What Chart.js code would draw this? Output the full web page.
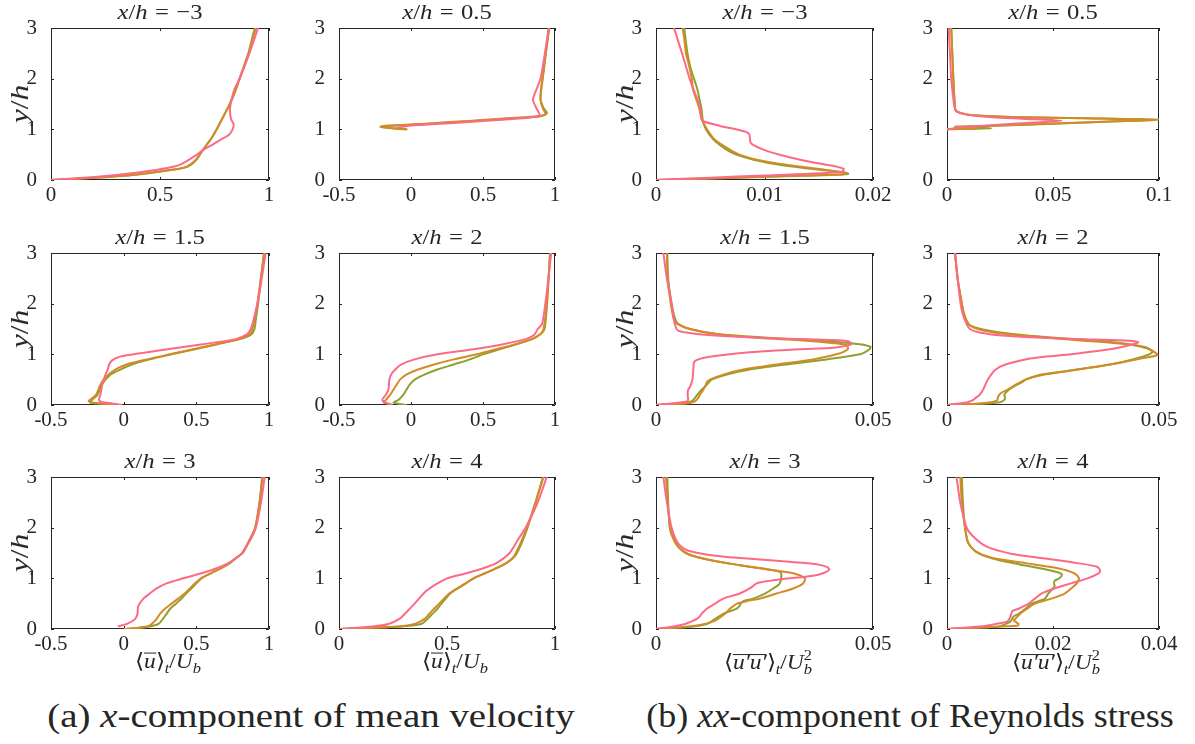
<!DOCTYPE html>
<html>
<head>
<meta charset="utf-8">
<script src="https://cdn.jsdelivr.net/npm/chart.js@4.4.1/dist/chart.umd.min.js"></script>
<style>
  body { margin: 0; background: #fff; }
  #fig { position: relative; width: 1195px; height: 744px; overflow: hidden;
         font-family: "Liberation Serif", serif; color: #262626; }
  #fig canvas { position: absolute; }
  .lbl { position: absolute; white-space: nowrap; line-height: 1; font-weight: normal;
         transform: translate(-50%, -50%) scaleX(1.12); }
  .ttl { font-size: 22px; }
  .eq { margin: 0 0.3em; }
  .ylab { font-size: 26px; transform: translate(-50%, -50%) rotate(-90deg) scaleX(1.22); }
  .xlab { font-size: 21px; }
  .capa { font-size: 33px; transform: translate(-50%, -50%) scaleX(1.18); }
  .capb { font-size: 33px; transform: translate(-50%, -50%) scaleX(1.09); }
  .ovl { display: inline-block; font-style: italic; border-top: 1px solid currentColor;
         line-height: 0.55; padding-top: 2px; }
  .ss { display: inline-block; vertical-align: -0.35em; font-size: 0.7em; line-height: 0.95; text-align: left; }
</style>
</head>
<body>
<div id="fig"></div>
<script>
// profiles are [x, y/h] pairs; A = pink case, B = orange case, C = green case

// streamwise mean velocity <u>_t / U_b
var uM3A = [[0,0],[0.1,0.03],[0.2,0.06],[0.3,0.1],[0.4,0.15],[0.5,0.21],[0.56,0.26],[0.6,0.32],[0.64,0.42],[0.67,0.5],[0.7,0.6],[0.742,0.7],[0.78,0.8],[0.818,0.9],[0.833,1.0],[0.838,1.1],[0.826,1.2],[0.821,1.4],[0.829,1.6],[0.842,1.8],[0.865,2],[0.91,2.5],[0.95,3]];
var uM3B = [[0,0],[0.1,0.02],[0.22,0.05],[0.35,0.09],[0.45,0.14],[0.57,0.21],[0.625,0.27],[0.665,0.4],[0.69,0.55],[0.715,0.7],[0.74,0.85],[0.76,1.0],[0.79,1.25],[0.82,1.5],[0.845,1.75],[0.865,2],[0.887,2.25],[0.907,2.5],[0.923,2.75],[0.94,3]];
var uM3C = [[0,0],[0.1,0.02],[0.22,0.05],[0.35,0.09],[0.455,0.14],[0.576,0.21],[0.63,0.27],[0.667,0.4],[0.69,0.55],[0.715,0.7],[0.74,0.85],[0.76,1.0],[0.79,1.25],[0.82,1.5],[0.845,1.75],[0.865,2],[0.885,2.25],[0.905,2.5],[0.92,2.75],[0.935,3]];

var u05A = [[-0.1,1.03],[0,1.075],[0.2,1.11],[0.4,1.145],[0.6,1.185],[0.8,1.225],[0.88,1.26],[0.894,1.285],[0.865,1.45],[0.847,1.58],[0.86,1.71],[0.899,2],[0.93,2.5],[0.956,3]];
var u05B = [[-0.03,1.0],[-0.1,1.015],[-0.17,1.035],[-0.205,1.055],[-0.17,1.07],[0,1.095],[0.2,1.13],[0.4,1.165],[0.6,1.205],[0.8,1.24],[0.9,1.265],[0.935,1.3],[0.915,1.42],[0.9,1.58],[0.902,1.77],[0.913,2],[0.935,2.5],[0.958,3]];
var u05C = [[-0.025,1.0],[-0.1,1.01],[-0.17,1.03],[-0.212,1.05],[-0.175,1.07],[0,1.09],[0.2,1.125],[0.4,1.16],[0.6,1.2],[0.8,1.235],[0.9,1.26],[0.944,1.32],[0.92,1.42],[0.9,1.58],[0.904,1.77],[0.915,2],[0.937,2.5],[0.96,3]];

var u15A = [[-0.01,0],[-0.08,0.03],[-0.15,0.06],[-0.17,0.1],[-0.16,0.2],[-0.148,0.4],[-0.125,0.6],[-0.11,0.7],[-0.1,0.8],[-0.08,0.88],[-0.03,0.95],[0.07,1.0],[0.14,1.03],[0.3,1.1],[0.545,1.2],[0.77,1.3],[0.85,1.4],[0.875,1.5],[0.9,1.75],[0.92,2],[0.95,2.5],[0.977,3]];
var u15B = [[-0.03,0],[-0.15,0.03],[-0.24,0.07],[-0.21,0.15],[-0.19,0.2],[-0.16,0.4],[-0.125,0.55],[-0.057,0.7],[0.02,0.8],[0.16,0.9],[0.318,1.0],[0.477,1.1],[0.636,1.2],[0.795,1.3],[0.87,1.4],[0.886,1.5],[0.9,1.7],[0.92,2],[0.966,3]];
var u15C = [[-0.02,0],[-0.13,0.02],[-0.23,0.05],[-0.21,0.12],[-0.18,0.2],[-0.15,0.4],[-0.09,0.6],[-0.023,0.7],[0.057,0.8],[0.18,0.9],[0.33,1.0],[0.49,1.1],[0.645,1.2],[0.8,1.3],[0.88,1.4],[0.9,1.5],[0.91,1.7],[0.925,2],[0.966,3]];

var u2A = [[-0.13,0],[-0.17,0.04],[-0.2,0.1],[-0.175,0.2],[-0.157,0.3],[-0.15,0.5],[-0.138,0.6],[-0.11,0.7],[-0.066,0.8],[0.025,0.9],[0.185,1.0],[0.434,1.1],[0.64,1.2],[0.797,1.3],[0.855,1.38],[0.88,1.5],[0.91,1.6],[0.933,2],[0.974,3]];
var u2B = [[-0.13,0],[-0.19,0.05],[-0.175,0.1],[-0.145,0.2],[-0.122,0.3],[-0.1,0.4],[-0.077,0.5],[-0.032,0.6],[0.048,0.7],[0.16,0.8],[0.297,0.9],[0.456,1.0],[0.59,1.1],[0.73,1.2],[0.84,1.3],[0.9,1.4],[0.92,1.5],[0.943,2],[0.967,3]];
var u2C = [[-0.03,0],[-0.08,0.02],[-0.122,0.05],[-0.088,0.1],[-0.054,0.2],[-0.032,0.3],[-0.009,0.4],[0.025,0.5],[0.093,0.6],[0.184,0.7],[0.297,0.8],[0.41,0.9],[0.5,1.0],[0.615,1.1],[0.73,1.2],[0.84,1.3],[0.9,1.4],[0.927,1.5],[0.945,2],[0.965,3]];

var u3A = [[-0.04,0.05],[0.023,0.1],[0.08,0.2],[0.095,0.3],[0.1,0.45],[0.136,0.6],[0.18,0.7],[0.227,0.8],[0.295,0.9],[0.41,1.0],[0.535,1.1],[0.64,1.2],[0.72,1.3],[0.775,1.4],[0.815,1.5],[0.87,1.75],[0.91,2],[0.945,2.5],[0.97,3]];
var u3B = [[0,0],[0.09,0.02],[0.16,0.05],[0.193,0.1],[0.227,0.2],[0.25,0.3],[0.284,0.4],[0.33,0.5],[0.375,0.6],[0.42,0.7],[0.455,0.8],[0.49,0.9],[0.534,1.0],[0.6,1.1],[0.67,1.2],[0.73,1.3],[0.77,1.4],[0.815,1.5],[0.865,1.75],[0.905,2],[0.935,2.5],[0.955,3]];
var u3C = [[0.01,0],[0.1,0.02],[0.18,0.05],[0.24,0.1],[0.27,0.2],[0.295,0.3],[0.32,0.4],[0.36,0.5],[0.398,0.6],[0.43,0.7],[0.466,0.8],[0.5,0.9],[0.534,1.0],[0.6,1.1],[0.67,1.2],[0.73,1.3],[0.775,1.4],[0.82,1.5],[0.865,1.75],[0.905,2],[0.935,2.5],[0.953,3]];

var u4A = [[0.01,0],[0.154,0.05],[0.23,0.1],[0.28,0.2],[0.305,0.3],[0.35,0.5],[0.403,0.75],[0.456,0.9],[0.5,1.0],[0.59,1.1],[0.668,1.2],[0.728,1.3],[0.79,1.5],[0.834,1.8],[0.864,2],[0.92,2.5],[0.962,3]];
var u4B = [[0,0],[0.275,0.05],[0.35,0.1],[0.396,0.2],[0.418,0.3],[0.44,0.4],[0.464,0.5],[0.486,0.6],[0.51,0.7],[0.547,0.8],[0.585,0.9],[0.622,1.0],[0.675,1.1],[0.728,1.2],[0.773,1.3],[0.804,1.4],[0.819,1.5],[0.841,1.7],[0.87,2],[0.91,2.5],[0.947,3]];
var u4C = [[0,0],[0.28,0.05],[0.38,0.1],[0.41,0.2],[0.433,0.3],[0.456,0.4],[0.474,0.5],[0.494,0.6],[0.515,0.7],[0.55,0.8],[0.587,0.9],[0.624,1.0],[0.677,1.1],[0.73,1.2],[0.775,1.3],[0.806,1.4],[0.824,1.5],[0.846,1.7],[0.873,2],[0.91,2.5],[0.944,3]];

// Reynolds normal stress <u'u'>_t / U_b^2
var rM3A = [[0,0],[0.005,0.045],[0.01,0.09],[0.0171,0.157],[0.0173,0.22],[0.0165,0.27],[0.0157,0.3],[0.0133,0.4],[0.0114,0.5],[0.0099,0.6],[0.0089,0.7],[0.0087,0.75],[0.0086,0.9],[0.0083,0.95],[0.0074,1.0],[0.0062,1.05],[0.0053,1.1],[0.0045,1.15],[0.0042,1.2],[0.00405,1.45],[0.0036,1.71],[0.0031,2],[0.0024,2.5],[0.00166,3]];
var rM3B = [[0,0],[0.006,0.035],[0.012,0.075],[0.0172,0.11],[0.0175,0.14],[0.0157,0.2],[0.012,0.3],[0.0093,0.4],[0.0077,0.5],[0.0068,0.6],[0.0054,0.8],[0.0047,1.0],[0.0042,1.2],[0.004,1.4],[0.0037,1.6],[0.0034,1.8],[0.0033,2.0],[0.003,2.3],[0.00276,2.5],[0.0026,2.8],[0.00245,3]];
var rM3C = [[0,0],[0.006,0.04],[0.012,0.08],[0.0177,0.12],[0.0174,0.15],[0.0151,0.2],[0.0114,0.3],[0.009,0.4],[0.0074,0.5],[0.0065,0.6],[0.0053,0.8],[0.0046,1.0],[0.0043,1.2],[0.0042,1.4],[0.004,1.6],[0.0038,1.8],[0.0035,2],[0.0032,2.2],[0.0029,2.5],[0.0026,3]];

var r05A = [[0,1.0],[0.005,1.03],[0.017,1.07],[0.035,1.12],[0.054,1.17],[0.035,1.21],[0.018,1.25],[0.008,1.3],[0.0045,1.36],[0.0035,1.45],[0.003,1.6],[0.002,2],[0.0014,2.5],[0.0008,3]];
var r05B = [[0,1.0],[0.008,1.01],[0.014,1.02],[0.009,1.035],[0.004,1.05],[0.018,1.068],[0.05,1.113],[0.08,1.16],[0.098,1.19],[0.065,1.22],[0.034,1.24],[0.012,1.28],[0.006,1.33],[0.004,1.38],[0.0035,1.6],[0.003,2],[0.0025,2.5],[0.002,3]];
var r05C = [[0,1.0],[0.012,1.01],[0.021,1.02],[0.012,1.035],[0.004,1.05],[0.018,1.065],[0.05,1.11],[0.08,1.16],[0.1,1.19],[0.065,1.22],[0.034,1.24],[0.012,1.28],[0.006,1.33],[0.004,1.38],[0.0035,1.6],[0.003,2],[0.0025,2.5],[0.002,3]];

var r15A = [[0,0],[0.0025,0.02],[0.0055,0.05],[0.0072,0.07],[0.0074,0.1],[0.0073,0.2],[0.0074,0.3],[0.0078,0.35],[0.0084,0.5],[0.0086,0.7],[0.0088,0.85],[0.0101,0.91],[0.014,0.97],[0.0216,1.04],[0.033,1.1],[0.041,1.13],[0.045,1.2],[0.0443,1.26],[0.04,1.285],[0.03,1.31],[0.02,1.34],[0.012,1.38],[0.007,1.43],[0.0049,1.48],[0.0045,1.55],[0.0041,1.7],[0.0036,2],[0.0025,2.5],[0.0017,3]];
var r15B = [[0,0],[0.007,0.03],[0.0086,0.06],[0.0094,0.1],[0.0101,0.2],[0.0109,0.3],[0.0115,0.4],[0.0117,0.45],[0.0124,0.5],[0.0155,0.6],[0.0201,0.7],[0.0278,0.8],[0.0362,0.9],[0.0416,1.0],[0.0442,1.1],[0.0439,1.18],[0.041,1.22],[0.033,1.28],[0.024,1.32],[0.014,1.4],[0.0078,1.5],[0.0049,1.6],[0.0041,1.7],[0.0034,2],[0.0027,2.5],[0.0025,3]];
var r15C = [[0,0],[0.0063,0.03],[0.0077,0.06],[0.0086,0.1],[0.0095,0.2],[0.0105,0.3],[0.0117,0.4],[0.0128,0.5],[0.0163,0.6],[0.0216,0.7],[0.03,0.8],[0.0393,0.9],[0.047,1.0],[0.0492,1.1],[0.0494,1.15],[0.047,1.2],[0.041,1.25],[0.0316,1.3],[0.0216,1.35],[0.014,1.4],[0.0078,1.5],[0.0051,1.6],[0.0044,1.7],[0.0036,2],[0.0028,2.5],[0.0026,3]];

var r2A = [[0,0],[0.0046,0.05],[0.0062,0.1],[0.0069,0.15],[0.0077,0.2],[0.0085,0.3],[0.0096,0.5],[0.0115,0.7],[0.0138,0.8],[0.0185,0.9],[0.023,0.95],[0.0292,1.0],[0.034,1.05],[0.0385,1.1],[0.043,1.18],[0.0452,1.24],[0.043,1.27],[0.0323,1.3],[0.0208,1.33],[0.013,1.37],[0.0077,1.43],[0.0054,1.5],[0.0046,1.6],[0.0037,1.8],[0.0032,2],[0.0025,2.5],[0.0019,3]];
var r2B = [[0,0],[0.0077,0.03],[0.0108,0.06],[0.0119,0.1],[0.012,0.15],[0.0123,0.2],[0.013,0.25],[0.0142,0.3],[0.0162,0.4],[0.0185,0.5],[0.023,0.6],[0.0308,0.7],[0.0385,0.8],[0.0446,0.9],[0.0496,0.99],[0.0477,1.1],[0.0446,1.17],[0.04,1.22],[0.0323,1.27],[0.0208,1.35],[0.013,1.41],[0.0077,1.49],[0.0054,1.57],[0.0046,1.67],[0.004,1.8],[0.0035,2],[0.0025,2.5],[0.0019,3]];
var r2C = [[0,0],[0.0092,0.03],[0.0127,0.06],[0.0135,0.1],[0.0137,0.15],[0.0135,0.2],[0.0146,0.3],[0.0165,0.4],[0.0177,0.45],[0.0185,0.5],[0.0223,0.6],[0.0308,0.7],[0.0385,0.8],[0.0438,0.9],[0.0477,1.0],[0.0485,1.06],[0.0469,1.14],[0.043,1.2],[0.036,1.27],[0.0246,1.33],[0.0154,1.4],[0.0085,1.49],[0.0054,1.57],[0.0046,1.67],[0.004,1.8],[0.0035,2],[0.0025,2.5],[0.0019,3]];

var r3A = [[0,0],[0.004,0.05],[0.0067,0.1],[0.0082,0.15],[0.0094,0.2],[0.0101,0.25],[0.0105,0.3],[0.0117,0.4],[0.0136,0.5],[0.0155,0.6],[0.0193,0.7],[0.0216,0.8],[0.0232,0.9],[0.0262,0.95],[0.0308,1.0],[0.0362,1.05],[0.0385,1.1],[0.0399,1.17],[0.0395,1.22],[0.037,1.28],[0.03,1.33],[0.0255,1.36],[0.018,1.41],[0.0124,1.46],[0.007,1.56],[0.0051,1.69],[0.0036,2],[0.0025,2.5],[0.0017,3]];
var r3B = [[0,0],[0.0078,0.05],[0.0113,0.1],[0.0132,0.15],[0.0143,0.2],[0.0159,0.3],[0.017,0.4],[0.0178,0.45],[0.0186,0.5],[0.0209,0.55],[0.024,0.6],[0.0278,0.7],[0.0316,0.8],[0.0339,0.9],[0.0343,1.0],[0.0316,1.1],[0.027,1.16],[0.0193,1.26],[0.0124,1.36],[0.007,1.49],[0.0048,1.66],[0.0036,1.86],[0.0032,2],[0.0027,2.5],[0.0023,3]];
var r3C = [[0,0],[0.0086,0.05],[0.0117,0.1],[0.0128,0.15],[0.0136,0.2],[0.0155,0.3],[0.017,0.35],[0.0186,0.4],[0.0192,0.45],[0.0195,0.5],[0.0201,0.55],[0.0224,0.6],[0.0251,0.7],[0.027,0.8],[0.0285,0.9],[0.0289,1.07],[0.0285,1.13],[0.0255,1.18],[0.0193,1.26],[0.0124,1.36],[0.0074,1.48],[0.0051,1.62],[0.004,1.8],[0.0032,2],[0.0028,2.5],[0.0026,3]];

var r4A = [[0,0],[0.0062,0.05],[0.0092,0.1],[0.0114,0.15],[0.012,0.25],[0.0123,0.35],[0.0135,0.4],[0.0154,0.5],[0.0166,0.6],[0.0178,0.7],[0.0203,0.8],[0.0234,0.9],[0.0265,1.0],[0.0286,1.1],[0.0289,1.15],[0.0283,1.23],[0.0246,1.3],[0.0178,1.4],[0.0123,1.48],[0.0074,1.63],[0.0049,1.83],[0.0037,2],[0.0025,2.5],[0.0018,3]];
var r4B = [[0,0],[0.0105,0.05],[0.0134,0.07],[0.0135,0.1],[0.0131,0.13],[0.0126,0.17],[0.0129,0.2],[0.0138,0.3],[0.0151,0.4],[0.0166,0.5],[0.0197,0.6],[0.0222,0.7],[0.0234,0.8],[0.0245,0.9],[0.0249,1.0],[0.024,1.1],[0.0209,1.2],[0.0148,1.3],[0.0086,1.4],[0.0055,1.53],[0.004,1.7],[0.0034,2],[0.0028,2.5],[0.0025,3]];
var r4C = [[0,0],[0.0098,0.05],[0.0111,0.1],[0.012,0.15],[0.0123,0.2],[0.0126,0.25],[0.0135,0.3],[0.0148,0.4],[0.016,0.5],[0.0185,0.6],[0.0191,0.7],[0.02,0.8],[0.0203,0.85],[0.0202,0.9],[0.0203,0.95],[0.0212,1.0],[0.0217,1.07],[0.0209,1.12],[0.0185,1.18],[0.0135,1.28],[0.0086,1.39],[0.0055,1.52],[0.004,1.7],[0.0034,2],[0.003,2.5],[0.0028,3]];

// axis ticks
var yTicks = [0, 1, 2, 3];
var ticksU01 = [0, 0.5, 1];
var ticksU = [-0.5, 0, 0.5, 1];
var ticksRM3 = [0, 0.01, 0.02];
var ticks05 = [0, 0.05, 0.1];
var ticksR = [0, 0.05];
var ticks4 = [0, 0.02, 0.04];

var stations = ['\u22123', '0.5', '1.5', '2', '3', '4'];
var caseColors = ['#fd6a85', '#d48a27', '#8ea12c'];

// layout of the 3 x 4 grid of axes (pixels)
var colLeft = [51, 339, 656, 947];
var colWidth = [218, 216, 217, 212];
var rowTop = [28, 253, 477];
var PH = 152;
var PAD_L = 44, PAD_T = 12, PAD_R = 28, PAD_B = 34;
var TICK = 3;

var panels = [
    { r: 0, c: 0, st: 0, xr: [0, 1], xt: ticksU01, data: [uM3A, uM3B, uM3C] },
    { r: 0, c: 1, st: 1, xr: [-0.5, 1], xt: ticksU, data: [u05A, u05B, u05C] },
    { r: 0, c: 2, st: 0, xr: [0, 0.02], xt: ticksRM3, data: [rM3A, rM3B, rM3C] },
    { r: 0, c: 3, st: 1, xr: [0, 0.1], xt: ticks05, data: [r05A, r05B, r05C] },
    { r: 1, c: 0, st: 2, xr: [-0.5, 1], xt: ticksU, data: [u15A, u15B, u15C] },
    { r: 1, c: 1, st: 3, xr: [-0.5, 1], xt: ticksU, data: [u2A, u2B, u2C] },
    { r: 1, c: 2, st: 2, xr: [0, 0.05], xt: ticksR, data: [r15A, r15B, r15C] },
    { r: 1, c: 3, st: 3, xr: [0, 0.05], xt: ticksR, data: [r2A, r2B, r2C] },
    { r: 2, c: 0, st: 4, xr: [-0.5, 1], xt: ticksU, data: [u3A, u3B, u3C] },
    { r: 2, c: 1, st: 5, xr: [0, 1], xt: ticksU01, data: [u4A, u4B, u4C] },
    { r: 2, c: 2, st: 4, xr: [0, 0.05], xt: ticksR, data: [r3A, r3B, r3C] },
    { r: 2, c: 3, st: 5, xr: [0, 0.04], xt: ticks4, data: [r4A, r4B, r4C] }
];

// box round the axes with inward ticks on all four sides
var boxPlugin = {
    id: 'box',
    beforeDatasetsDraw: function(chart) {
        var ctx = chart.ctx, a = chart.chartArea, sx = chart.scales.x, sy = chart.scales.y;
        ctx.save();
        ctx.strokeStyle = '#262626';
        ctx.lineWidth = 1;
        ctx.beginPath();
        ctx.rect(a.left + 0.5, a.top + 0.5, a.right - a.left - 1, a.bottom - a.top - 1);
        sx.ticks.forEach(function(t) {
            var px = Math.round(sx.getPixelForValue(t.value)) + 0.5;
            ctx.moveTo(px, a.bottom); ctx.lineTo(px, a.bottom - TICK);
            ctx.moveTo(px, a.top); ctx.lineTo(px, a.top + TICK);
        });
        sy.ticks.forEach(function(t) {
            var py = Math.round(sy.getPixelForValue(t.value)) + 0.5;
            ctx.moveTo(a.left, py); ctx.lineTo(a.left + TICK, py);
            ctx.moveTo(a.right, py); ctx.lineTo(a.right - TICK, py);
        });
        ctx.stroke();
        ctx.restore();
    }
};

var fig = document.getElementById('fig');

function addLabel(cls, html, x, y) {
    var d = document.createElement('div');
    d.className = 'lbl ' + cls;
    d.innerHTML = html;
    d.style.left = x + 'px';
    d.style.top = y + 'px';
    fig.appendChild(d);
}

panels.forEach(function(p) {
    var pw = colWidth[p.c];
    var cv = document.createElement('canvas');
    cv.width = PAD_L + pw + PAD_R;
    cv.height = PAD_T + PH + PAD_B;
    cv.style.left = (colLeft[p.c] - PAD_L) + 'px';
    cv.style.top = (rowTop[p.r] - PAD_T) + 'px';
    fig.appendChild(cv);

    var tickFont = { family: '"Liberation Serif", serif', size: 21 };

    new Chart(cv, {
        type: 'scatter',
        data: {
            datasets: p.data.map(function(pts, i) {
                return {
                    data: pts.map(function(q) { return { x: q[0], y: q[1] }; }),
                    showLine: true,
                    borderColor: caseColors[i],
                    borderWidth: 2,
                    pointRadius: 0,
                    tension: 0.25
                };
            })
        },
        options: {
            responsive: false,
            animation: false,
            devicePixelRatio: 1,
            layout: { padding: { left: 0, top: PAD_T, right: PAD_R, bottom: 0 } },
            plugins: { legend: { display: false }, tooltip: { enabled: false } },
            scales: {
                x: {
                    type: 'linear', min: p.xr[0], max: p.xr[1],
                    grid: { display: false }, border: { display: false },
                    afterBuildTicks: function(s) { s.ticks = p.xt.map(function(v) { return { value: v }; }); },
                    afterFit: function(s) { s.height = PAD_B; s.paddingLeft = 0; s.paddingRight = 0; },
                    ticks: { font: tickFont, color: '#262626', padding: -5, maxRotation: 0, autoSkip: false,
                             callback: function(v) { return String(v); } }
                },
                y: {
                    type: 'linear', min: 0, max: 3,
                    grid: { display: false }, border: { display: false },
                    afterBuildTicks: function(s) { s.ticks = yTicks.map(function(v) { return { value: v }; }); },
                    afterFit: function(s) { s.width = PAD_L; s.paddingTop = 0; s.paddingBottom = 0; },
                    ticks: { font: tickFont, color: '#262626', padding: 6,
                             callback: function(v) { return String(v); } }
                }
            }
        },
        plugins: [boxPlugin]
    });

    var cx = colLeft[p.c] + pw / 2;
    addLabel('ttl', '<i>x</i>/<i>h</i><span class="eq">=</span>' + stations[p.st], cx, rowTop[p.r] - 16);
    if (p.c === 0 || p.c === 2) {
        addLabel('ylab', '<i>y</i>/<i>h</i>', colLeft[p.c] - 31, rowTop[p.r] + PH / 2);
    }
});

// axis quantities under the bottom row
var uLabel = '\u27E8<span class="ovl">u</span>\u27E9<sub style="font-size:0.7em"><i>t</i></sub>/<i>U</i><sub style="font-size:0.7em"><i>b</i></sub>';
var rLabel = '\u27E8<span class="ovl">u\u2032u\u2032</span>\u27E9<sub style="font-size:0.7em"><i>t</i></sub>/<i>U</i><span class="ss"><sup style="font-size:1em;vertical-align:0">2</sup><br><i>b</i></span>';
var bottom = rowTop[2] + PH;
[0, 1].forEach(function(c) { addLabel('xlab', uLabel, colLeft[c] + colWidth[c] / 2 + 8, bottom + 34); });
[2, 3].forEach(function(c) { addLabel('xlab', rLabel, colLeft[c] + colWidth[c] / 2 + 3, bottom + 34); });

addLabel('capa', '(a) <i>x</i>-component of mean velocity', 311, 716);
addLabel('capb', '(b) <i>xx</i>-component of Reynolds stress', 910, 716);
</script>
</body>
</html>
